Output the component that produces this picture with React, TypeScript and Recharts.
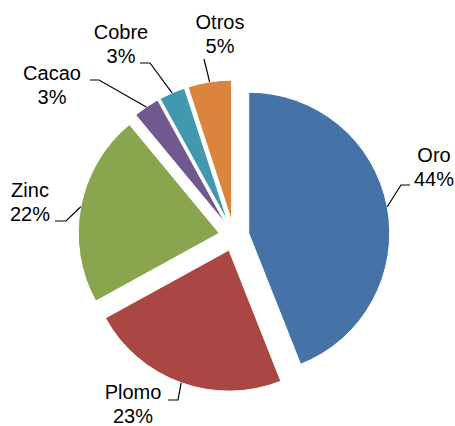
import React from 'react';
import { PieChart, Pie, Cell, Sector } from 'recharts';

const categories = ['Oro', 'Plomo', 'Zinc', 'Cacao', 'Cobre', 'Otros'];
const shares = [44, 23, 22, 3, 3, 5];
const colors = ['#4572A7', '#AA4643', '#89A54E', '#71588F', '#4198AF', '#DB843D'];

const data = categories.map((name, i) => ({ name, value: shares[i] }));

const EXPLODE = 15;
const RADIAN = Math.PI / 180;

// label layout: text block centre offset from pie centre, leader attach offset from text centre, elbow length
const labelLayout = [
  { dx: 200, dy: -69, ax: -24, ay: 18, elbow: -9 },
  { dx: -101, dy: 168, ax: 35, ay: -4, elbow: 10 },
  { dx: -204, dy: -34, ax: 25, ay: 19, elbow: 11 },
  { dx: -182, dy: -151, ax: 38, ay: -5, elbow: 9 },
  { dx: -113, dy: -192, ax: 19, ay: 19, elbow: 10 },
  { dx: -14, dy: -202, ax: -16, ay: 25, elbow: 0 },
];

const offset = (midAngle: number) => ({
  ox: EXPLODE * Math.cos(-midAngle * RADIAN),
  oy: EXPLODE * Math.sin(-midAngle * RADIAN),
});

const ExplodedSector = (props: any) => {
  const { ox, oy } = offset(props.midAngle);
  return <Sector {...props} cx={props.cx + ox} cy={props.cy + oy} />;
};

const renderLabel = (props: any) => {
  const { cx, cy, midAngle, outerRadius, index, name, percent } = props;
  const { ox, oy } = offset(midAngle);
  const sx = cx + ox + outerRadius * Math.cos(-midAngle * RADIAN);
  const sy = cy + oy + outerRadius * Math.sin(-midAngle * RADIAN);
  const L = labelLayout[index];
  const tx = cx + L.dx;
  const ty = cy + L.dy;
  const ax = tx + L.ax;
  const ay = ty + L.ay;
  const ex = ax + L.elbow;
  return (
    <g>
      <polyline
        points={`${ax},${ay} ${ex},${ay} ${sx},${sy}`}
        fill="none"
        stroke="#000"
        strokeWidth={1.2}
      />
      <text
        x={tx}
        y={ty}
        textAnchor="middle"
        fontFamily="'Liberation Sans', Arial, sans-serif"
        fontSize={20}
        fill="#000"
      >
        <tspan x={tx} y={ty - 5}>{name}</tspan>
        <tspan x={tx} y={ty + 19}>{`${Math.round(percent * 100)}%`}</tspan>
      </text>
    </g>
  );
};

export default function App() {
  return (
    <div style={{ position: 'absolute', left: 0, top: 0, background: '#fff' }}>
      <PieChart width={455} height={426} margin={{ top: 0, right: 0, bottom: 0, left: 0 }}>
        <Pie
          data={data}
          dataKey="value"
          nameKey="name"
          cx={234}
          cy={236}
          outerRadius={141}
          startAngle={90}
          endAngle={-270}
          stroke="#fff"
          strokeWidth={1}
          isAnimationActive={false}
          shape={ExplodedSector}
          activeShape={ExplodedSector}
          inactiveShape={ExplodedSector}
          label={renderLabel}
          labelLine={false}
        >
          {data.map((d, i) => (
            <Cell key={d.name} fill={colors[i]} />
          ))}
        </Pie>
      </PieChart>
    </div>
  );
}
